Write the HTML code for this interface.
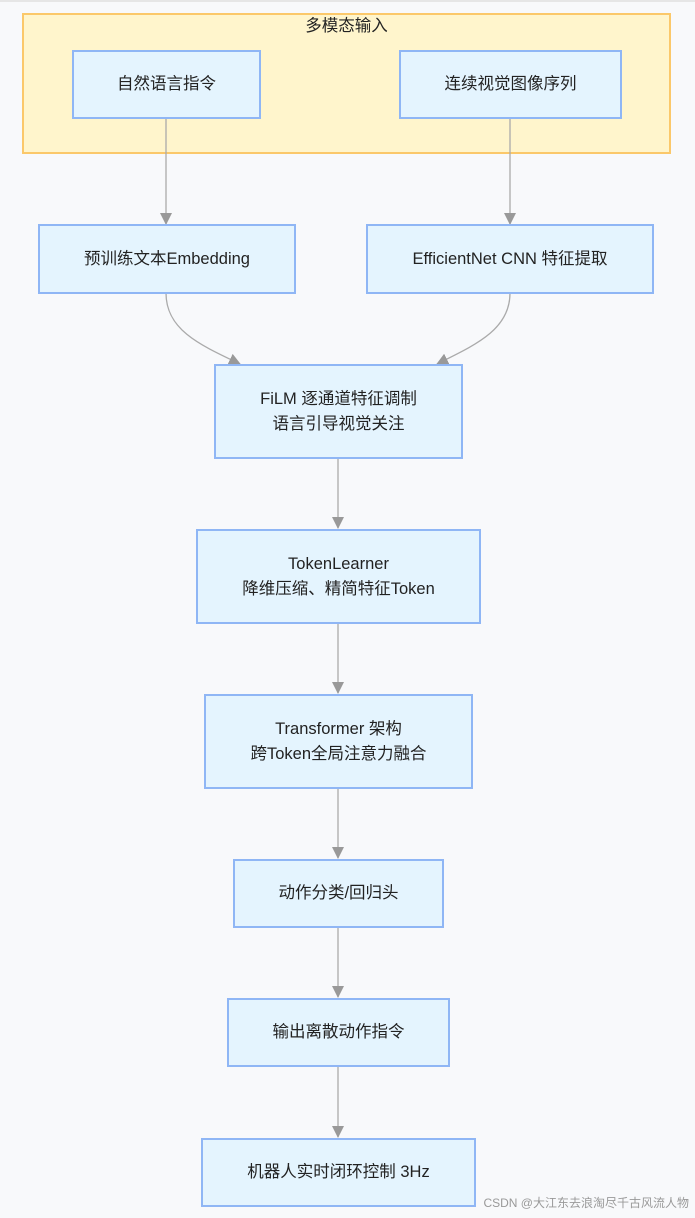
<!DOCTYPE html>
<html><head><meta charset="utf-8"><style>
body{margin:0;width:695px;height:1218px;background:#f8f9fb;position:relative;overflow:hidden;font-family:"Liberation Sans","Noto Sans CJK SC",sans-serif;color:#222}
.n{position:absolute;box-sizing:border-box;background:#e4f4fe;border:2px solid #8fb6f5;display:flex;align-items:center;justify-content:center;text-align:center;font-size:16.5px;line-height:25px}
.g{position:absolute;box-sizing:border-box;background:#fff5cc;border:2px solid #fbc86a;left:22px;top:13px;width:649px;height:141px;text-align:center;font-size:16.5px;padding-top:0px;line-height:22px}
svg{position:absolute;left:0;top:0}
.wm{position:absolute;right:6px;bottom:7px;font-size:12px;color:#999}
</style></head><body>
<div style="position:absolute;left:0;top:0;width:695px;height:2px;background:#e6e6e6"></div>
<div class="g">多模态输入</div>
<svg width="695" height="1218">
<defs><marker id="a" markerWidth="12" markerHeight="12" refX="11" refY="6" orient="auto" markerUnits="userSpaceOnUse"><path d="M0,0L12,6L0,12z" fill="#999"/></marker></defs>
<g stroke="#aaa" stroke-width="1.3" fill="none" marker-end="url(#a)">
<path d="M166,118V224"/>
<path d="M510,118V224"/>
<path d="M166,293C166,330 200,345 240,364"/>
<path d="M510,293C510,330 475,345 437,364"/>
<path d="M338,458V528"/>
<path d="M338,623V693"/>
<path d="M338,788V858"/>
<path d="M338,927V997"/>
<path d="M338,1066V1137"/>
</g></svg>
<div class="n" style="left:72px;top:50px;width:189px;height:69px">自然语言指令</div>
<div class="n" style="left:399px;top:50px;width:223px;height:69px">连续视觉图像序列</div>
<div class="n" style="left:38px;top:224px;width:258px;height:70px">预训练文本Embedding</div>
<div class="n" style="left:366px;top:224px;width:288px;height:70px">EfficientNet CNN 特征提取</div>
<div class="n" style="left:214px;top:364px;width:249px;height:95px">FiLM 逐通道特征调制<br>语言引导视觉关注</div>
<div class="n" style="left:196px;top:529px;width:285px;height:95px">TokenLearner<br>降维压缩、精简特征Token</div>
<div class="n" style="left:204px;top:694px;width:269px;height:95px">Transformer 架构<br>跨Token全局注意力融合</div>
<div class="n" style="left:233px;top:859px;width:211px;height:69px">动作分类/回归头</div>
<div class="n" style="left:227px;top:998px;width:223px;height:69px">输出离散动作指令</div>
<div class="n" style="left:201px;top:1138px;width:275px;height:69px">机器人实时闭环控制 3Hz</div>
<div class="wm">CSDN @大江东去浪淘尽千古风流人物</div>
</body></html>
